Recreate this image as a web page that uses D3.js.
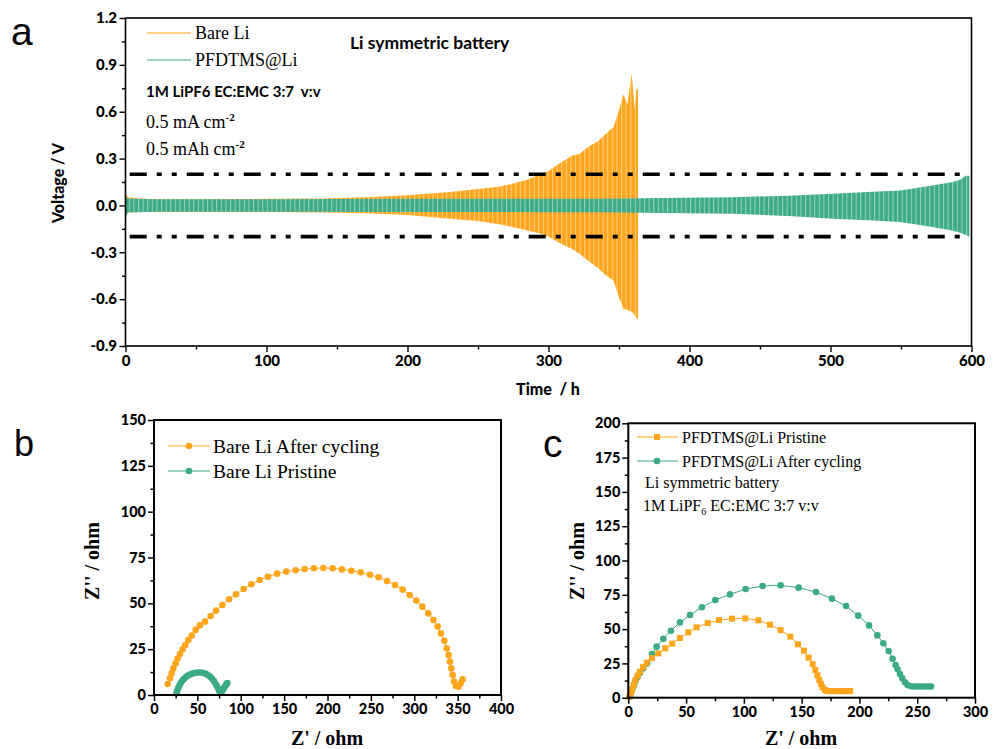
<!DOCTYPE html>
<html>
<head>
<meta charset="utf-8">
<script src="https://cdn.jsdelivr.net/npm/d3@7"></script>
<style>
  body { margin: 0; background: #fff; }
  svg { display: block; }
</style>
</head>
<body>
<div id="chart"></div>
<script>
const SANS = "Lato, 'Open Sans', Arial, sans-serif";
const SERIF = "'Liberation Serif', 'Times New Roman', serif";
const ORANGE = "#FFA51C";
const GREEN = "#3BAA85";

// (a) voltage envelope of the cycling curves
const bareTime  = [0, 2, 20, 60, 100, 140, 170, 200, 228, 250, 265, 275, 285, 294, 300, 308, 317, 322, 329, 335, 341, 346, 350, 353, 356, 359, 361, 362.5, 363.5];
const bareUpper = [0.075, 0.05, 0.04, 0.04, 0.042, 0.045, 0.052, 0.065, 0.085, 0.105, 0.12, 0.14, 0.165, 0.2, 0.22, 0.27, 0.32, 0.33, 0.38, 0.41, 0.46, 0.5, 0.61, 0.71, 0.65, 0.85, 0.62, 0.75, 0.74];
const bareLower = [-0.06, -0.045, -0.04, -0.04, -0.042, -0.045, -0.05, -0.062, -0.083, -0.1, -0.12, -0.14, -0.16, -0.18, -0.2, -0.24, -0.28, -0.31, -0.36, -0.4, -0.45, -0.48, -0.59, -0.66, -0.67, -0.68, -0.7, -0.72, -0.73];

const pfdTime  = [0, 1.5, 20, 100, 200, 300, 336, 380, 431, 470, 502, 530, 549, 560, 572, 586, 592, 596, 598.5];
const pfdUpper = [0.055, 0.045, 0.04, 0.04, 0.042, 0.043, 0.043, 0.048, 0.053, 0.062, 0.075, 0.087, 0.096, 0.11, 0.128, 0.149, 0.165, 0.19, 0.19];
const pfdLower = [-0.08, -0.045, -0.04, -0.04, -0.042, -0.043, -0.043, -0.048, -0.053, -0.068, -0.085, -0.096, -0.106, -0.12, -0.138, -0.16, -0.175, -0.19, -0.2];

const limitLevels = [0.2, -0.2];
const limitSpan = [3, 596];
const timeTicks = [0, 100, 200, 300, 400, 500, 600];
const timeMinor = [50, 150, 250, 350, 450, 550];
const voltTicks = [-0.9, -0.6, -0.3, 0, 0.3, 0.6, 0.9, 1.2];
const voltMinor = [-0.75, -0.45, -0.15, 0.15, 0.45, 0.75, 1.05];

// (b) Nyquist, bare Li  [Z', Z'']
const bareCycled = [[15.8,6],[18.4,9.1],[20.4,11.8],[22.3,14.5],[25,17.3],[27.3,20],[30,22.4],[33,24.9],[36.1,27.3],[39.6,30],
  [43.4,32.4],[48,35.5],[53,38],[58.8,40],[65.3,43.1],[71.5,46],[78.8,49.1],[86.5,52.2],[94.5,54.9],[103.4,57.8],
  [112.2,60.4],[121.8,62.7],[131.4,64.5],[141.8,66.2],[152.5,67.3],[163.3,68],[173.7,68.7],[184.4,69.1],[195.2,69.3],[206,69.1],
  [216.7,68.5],[227.5,67.8],[238.2,66.9],[249,65.6],[259,64.2],[268.6,62.2],[277.8,60],[286.6,57.5],[294.7,54.5],[302.4,51.5],
  [309.3,48.2],[316.2,44.5],[322,40.9],[327,37.3],[330.8,33.6],[334.7,29.6],[337.4,25.5],[339.7,21.8],[341.2,18.2],[342.7,14.5],
  [344.3,10.9],[345.8,7.3],[348.1,4.9],[350.8,4.5],[353.5,6.4],[355.8,8.5]];
const barePristine = [[26,1],[27,2.6],[28.2,4.1],[29.6,5.5],[31.2,6.8],[33,8],[35,9],[37.2,9.9],[39.6,10.7],[42.2,11.3],
  [45,11.8],[48,12.1],[51,12.3],[54,12.3],[57,12],[59.8,11.5],[62.4,10.8],[64.8,9.9],[67,8.8],[69,7.6],
  [70.8,6.3],[72.4,5],[73.8,3.7],[75,2.5],[76.2,1.6],[77.4,1.5],[78.6,2.3],[79.8,3.2],[81,4.1],[82.2,5],[83.4,5.8],[84.5,6.5]];
const zxTicksB = [0, 50, 100, 150, 200, 250, 300, 350, 400];
const zxMinorB = [25, 75, 125, 175, 225, 275, 325, 375];
const zyTicksB = [0, 25, 50, 75, 100, 125, 150];
const zyMinorB = [12.5, 37.5, 62.5, 87.5, 112.5, 137.5];

// (c) Nyquist, PFDTMS@Li
const pfdPristine = [[0.9,0.7],[2,3],[3.2,5.6],[4.6,9.3],[6.3,12.9],[8.1,16],[10.1,19],[12.8,22.3],[15.9,25.5],[20.5,28.9],
  [26,32.3],[32,36],[38,39.4],[44.7,43.5],[51.9,47.6],[59.1,51.3],[68.7,54.4],[78.5,56.6],[89.7,57.6],[101.2,57.8],
  [112.5,56.4],[122.6,53.2],[131.8,49.3],[140.2,44.5],[146.8,38.9],[152,34.3],[156,29.2],[159.5,24.5],[161.8,20.2],[163.6,16.3],
  [165.3,12.9],[166.7,10],[168.2,7.5],[170.2,5.6],[172.2,4.9],[175,4.8],[178,4.8],[181,4.8],[184,4.8],[187,4.8],[190,4.8],[192,4.8]];
const pfdCycled = [[1.4,0.7],[2.3,3.2],[3.5,6.1],[4.9,9.2],[6.3,12.2],[8.1,15.1],[10.1,18.2],[13,21.4],[16.4,25],[20.5,31.8],
  [24.5,37.2],[30.3,43],[36.9,48.8],[44.7,54.9],[53.4,60.3],[63.7,65.9],[75.3,71.2],[88,75.3],[101.5,79.2],[116.2,81.4],
  [131.8,81.9],[147.4,80.2],[162.4,77],[176.2,72.2],[188.4,66.8],[199,59.8],[208.3,52.7],[215.5,45.4],[220.7,39.6],[225.3,34],
  [228.7,28.4],[231.3,23.8],[233,20.7],[235.1,17.3],[237.1,14.1],[239.4,11.2],[241.7,9.2],[244.6,8.3],[247.5,8.2],[250.5,8.2],
  [253.5,8.2],[256.5,8.2],[259.5,8.2],[262,8.2]];
const zxTicksC = [0, 50, 100, 150, 200, 250, 300];
const zxMinorC = [25, 75, 125, 175, 225, 275];
const zyTicksC = [0, 25, 50, 75, 100, 125, 150, 175, 200];
const zyMinorC = [12.5, 37.5, 62.5, 87.5, 112.5, 137.5, 162.5, 187.5];

const svg = d3.select("#chart").append("svg")
    .attr("width", 993)
    .attr("height", 749);
svg.append("rect").attr("width", 993).attr("height", 749).attr("fill", "#fff");
const defs = svg.append("defs");

function stripes(id, color) {
    let p = defs.append("pattern")
        .attr("id", id)
        .attr("patternUnits", "userSpaceOnUse")
        .attr("width", 4.6).attr("height", 10);
    p.append("rect").attr("width", 4.6).attr("height", 10).attr("fill", color);
    p.append("rect").attr("width", 1.1).attr("height", 10).attr("fill", "#fff").attr("opacity", 0.45);
}
stripes("stripeOrange", ORANGE);
stripes("stripeGreen", GREEN);

// draws ticks (outward), labels and a closed frame
function axes(g, x, y, o) {
    let [x0, x1] = x.range(), [y0, y1] = y.range();
    let clean = s => { s.select(".domain").remove(); s.selectAll("line").attr("stroke-width", o.tw); };
    g.append("g").attr("transform", `translate(0,${y0})`)
        .call(d3.axisBottom(x).tickValues(o.xMinor).tickSize(3.5).tickFormat("")).call(clean);
    g.append("g").attr("transform", `translate(${x0},0)`)
        .call(d3.axisLeft(y).tickValues(o.yMinor).tickSize(3.5).tickFormat("")).call(clean);
    let xa = g.append("g").attr("transform", `translate(0,${y0})`)
        .call(d3.axisBottom(x).tickValues(o.xMajor).tickSize(6).tickPadding(o.padX).tickFormat(o.fx)).call(clean);
    let ya = g.append("g").attr("transform", `translate(${x0},0)`)
        .call(d3.axisLeft(y).tickValues(o.yMajor).tickSize(6).tickPadding(o.padY).tickFormat(o.fy)).call(clean);
    [xa, ya].forEach(a => a.selectAll("text")
        .attr("font-family", SANS).attr("font-weight", 900)
        .attr("font-size", o.fs).attr("fill", "#000"));
    g.append("rect")
        .attr("x", x0).attr("y", y1)
        .attr("width", x1 - x0).attr("height", y0 - y1)
        .attr("fill", "none").attr("stroke", "#000").attr("stroke-width", o.sw);
}

function label(g, txt, x, y, o) {
    let t = g.append("text")
        .attr("x", x).attr("y", y)
        .attr("font-family", o.family || SERIF)
        .attr("font-size", o.size)
        .attr("font-weight", o.weight || "normal")
        .attr("text-anchor", o.anchor || "start")
        .style("white-space", "pre")
        .text(txt);
    if (o.rotate) t.attr("transform", `rotate(-90,${x},${y})`);
    return t;
}

// ---------- panel a ----------
let gA = svg.append("g");
let xA = d3.scaleLinear().domain([0, 600]).range([125.5, 971.5]);
let yA = d3.scaleLinear().domain([-0.9, 1.2]).range([346, 18]);

defs.append("clipPath").attr("id", "clipA").append("rect")
    .attr("x", 125.5).attr("y", 18).attr("width", 846).attr("height", 328);

let bareEnv = bareTime.map((t, i) => ({ t: t, hi: bareUpper[i], lo: bareLower[i] }));
let pfdEnv = pfdTime.map((t, i) => ({ t: t, hi: pfdUpper[i], lo: pfdLower[i] }));
let envArea = d3.area().x(d => xA(d.t)).y0(d => yA(d.lo)).y1(d => yA(d.hi));

gA.append("path").datum(bareEnv).attr("d", envArea)
    .attr("fill", "url(#stripeOrange)").attr("clip-path", "url(#clipA)");
gA.append("path").datum(pfdEnv).attr("d", envArea)
    .attr("fill", "url(#stripeGreen)").attr("clip-path", "url(#clipA)");

gA.selectAll(".limit").data(limitLevels).enter().append("line")
    .attr("class", "limit")
    .attr("x1", xA(limitSpan[0])).attr("x2", xA(limitSpan[1]))
    .attr("y1", d => yA(d)).attr("y2", d => yA(d))
    .attr("stroke", "#000").attr("stroke-width", 3.6)
    .attr("stroke-dasharray", "17,10,5,10,5,10");

axes(gA, xA, yA, {
    xMajor: timeTicks, xMinor: timeMinor, yMajor: voltTicks, yMinor: voltMinor,
    fx: d3.format("d"), fy: d => d.toFixed(1), fs: 15, sw: 1.6, tw: 1.4, padX: 3, padY: 2.5
});

label(gA, "Time  / h", 548, 395, { family: SANS, size: 16, weight: 900, anchor: "middle" });
label(gA, "Voltage / V", 64, 183, { family: SANS, size: 16, weight: 900, anchor: "middle", rotate: true });

// legend a
[["Bare Li", ORANGE, 33], ["PFDTMS@Li", GREEN, 60]].forEach(([name, c, y]) => {
    gA.append("line").attr("x1", 147).attr("x2", 191).attr("y1", y).attr("y2", y)
        .attr("stroke", c).attr("stroke-width", 1.2);
    label(gA, name, 195, y + 6, { size: 18 });
});
label(gA, "Li symmetric battery", 350, 49, { family: SANS, size: 17.5, weight: "bold" });
label(gA, "1M LiPF6 EC:EMC 3:7  v:v", 146, 97, { family: SANS, size: 15, weight: "bold" });
let cd = label(gA, "0.5 mA cm", 146, 128, { size: 18 });
cd.append("tspan").attr("dy", -7).attr("font-size", 11).attr("font-weight", "bold").text("-2");
let cap = label(gA, "0.5 mAh cm", 146, 155, { size: 18 });
cap.append("tspan").attr("dy", -7).attr("font-size", 11).attr("font-weight", "bold").text("-2");

// ---------- panel b ----------
let gB = svg.append("g");
let xB = d3.scaleLinear().domain([0, 400]).range([154, 501]);
let yB = d3.scaleLinear().domain([0, 150]).range([695, 420]);
let lineB = d3.line().x(d => xB(d[0])).y(d => yB(d[1]));

[[bareCycled, ORANGE], [barePristine, GREEN]].forEach(([data, c]) => {
    gB.append("path").datum(data).attr("d", lineB)
        .attr("fill", "none").attr("stroke", c).attr("stroke-width", 1);
    gB.append("g").selectAll("circle").data(data).enter().append("circle")
        .attr("cx", d => xB(d[0])).attr("cy", d => yB(d[1]))
        .attr("r", 3.3).attr("fill", c);
});

axes(gB, xB, yB, {
    xMajor: zxTicksB, xMinor: zxMinorB, yMajor: zyTicksB, yMinor: zyMinorB,
    fx: d3.format("d"), fy: d3.format("d"), fs: 14.5, sw: 2, tw: 1.5, padX: 2.5, padY: 2
});
label(gB, "Z' / ohm", 327, 745, { size: 20, weight: "bold", anchor: "middle" });
label(gB, "Z'' / ohm", 99, 561, { size: 20, weight: "bold", anchor: "middle", rotate: true });

[["Bare Li After cycling", ORANGE, 446], ["Bare Li Pristine", GREEN, 471]].forEach(([name, c, y]) => {
    gB.append("line").attr("x1", 168).attr("x2", 210).attr("y1", y).attr("y2", y)
        .attr("stroke", c).attr("stroke-width", 1.2);
    gB.append("circle").attr("cx", 189).attr("cy", y).attr("r", 3.3).attr("fill", c);
    label(gB, name, 213, y + 6.5, { size: 19.5 });
});

// ---------- panel c ----------
let gC = svg.append("g");
let xC = d3.scaleLinear().domain([0, 300]).range([628.3, 975]);
let yC = d3.scaleLinear().domain([0, 200]).range([697.7, 423.3]);
let lineC = d3.line().x(d => xC(d[0])).y(d => yC(d[1]));

gC.append("path").datum(pfdCycled).attr("d", lineC)
    .attr("fill", "none").attr("stroke", GREEN).attr("stroke-width", 1);
gC.append("g").selectAll("circle").data(pfdCycled).enter().append("circle")
    .attr("cx", d => xC(d[0])).attr("cy", d => yC(d[1]))
    .attr("r", 3.3).attr("fill", GREEN);
gC.append("path").datum(pfdPristine).attr("d", lineC)
    .attr("fill", "none").attr("stroke", ORANGE).attr("stroke-width", 1);
gC.append("g").selectAll("rect").data(pfdPristine).enter().append("rect")
    .attr("x", d => xC(d[0]) - 3).attr("y", d => yC(d[1]) - 3)
    .attr("width", 6).attr("height", 6).attr("fill", ORANGE);

axes(gC, xC, yC, {
    xMajor: zxTicksC, xMinor: zxMinorC, yMajor: zyTicksC, yMinor: zyMinorC,
    fx: d3.format("d"), fy: d3.format("d"), fs: 14.5, sw: 2, tw: 1.5, padX: 3, padY: 2
});
label(gC, "Z' / ohm", 801, 745, { size: 20, weight: "bold", anchor: "middle" });
label(gC, "Z'' / ohm", 584, 561, { size: 20, weight: "bold", anchor: "middle", rotate: true });

gC.append("line").attr("x1", 637).attr("x2", 678).attr("y1", 437).attr("y2", 437)
    .attr("stroke", ORANGE).attr("stroke-width", 1.2);
gC.append("rect").attr("x", 654).attr("y", 434).attr("width", 6).attr("height", 6).attr("fill", ORANGE);
label(gC, "PFDTMS@Li Pristine", 682, 442.5, { size: 16 });
gC.append("line").attr("x1", 637).attr("x2", 678).attr("y1", 461).attr("y2", 461)
    .attr("stroke", GREEN).attr("stroke-width", 1.2);
gC.append("circle").attr("cx", 657).attr("cy", 461).attr("r", 3.3).attr("fill", GREEN);
label(gC, "PFDTMS@Li After cycling", 682, 466.5, { size: 16 });
label(gC, "Li symmetric battery", 645, 488, { size: 16 });
let elec = label(gC, "1M LiPF", 643, 511, { size: 16 });
elec.append("tspan").attr("dy", 4).attr("font-size", 10).text("6");
elec.append("tspan").attr("dy", -4).text(" EC:EMC 3:7 v:v");

// panel letters
const LETTER = "Arial, 'Liberation Sans', sans-serif";
label(svg, "a", 11, 45, { family: LETTER, size: 39 });
label(svg, "b", 14, 456, { family: LETTER, size: 36 });
label(svg, "c", 543, 457, { family: LETTER, size: 39 });
</script>
</body>
</html>
